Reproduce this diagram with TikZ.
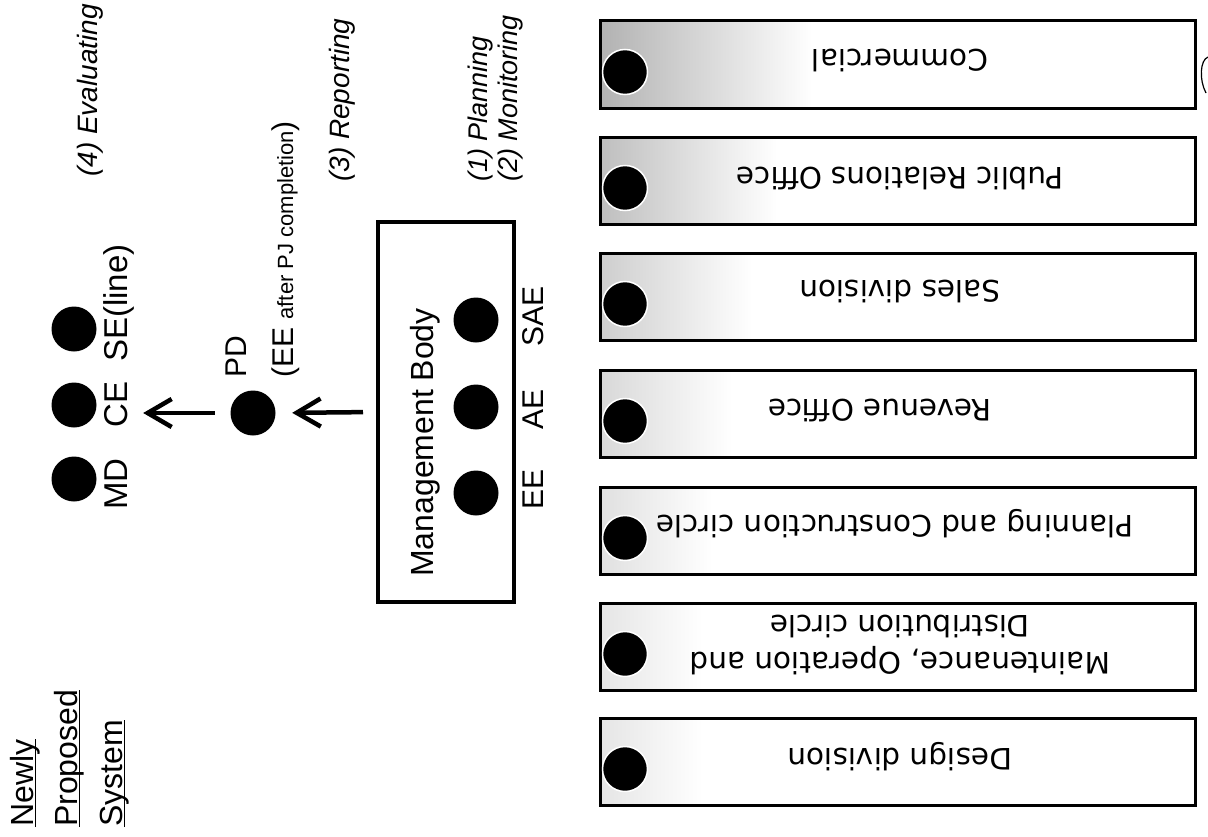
\documentclass[tikz,border=0pt]{standalone}
\usepackage{fontspec}
\setmainfont{Liberation Sans}
\newfontfamily\deptfont{DejaVu Sans}
\usetikzlibrary{arrows.meta}
\newcommand\pxsize[2]{\fontsize{#1bp}{#2bp}\selectfont}
\begin{document}
\begin{tikzpicture}[x=1bp,y=-1bp,
  vlabel/.style={rotate=90,anchor=base west,inner sep=0pt},
  dot/.style={circle,fill=black,minimum size=45bp,inner sep=0pt},
  dept/.style={draw=black,line width=3bp,minimum width=595bp,minimum height=87bp,inner sep=0pt},
  dtext/.style={rotate=180,font=\deptfont\pxsize{29.5}{37},align=center,inner sep=0pt},
  flow/.style={line width=4.5bp,-{Straight Barb[length=24bp,width=28bp]}},
  uline/.style={line width=1.5bp},
  stepname/.style={font=\itshape\pxsize{28}{34}}]
\useasboundingbox[fill=white] (0,0) rectangle (1208,837);

% title
\node[vlabel,font=\pxsize{32}{38}] (w1) at (33,827) {Newly};
\node[vlabel,font=\pxsize{32}{38}] (w2) at (77,827) {Proposed};
\node[vlabel,font=\pxsize{32}{38}] (w3) at (122,827) {System};
\draw[uline] ([xshift=2.5bp]w1.base west) -- ([xshift=2.5bp]w1.base east);
\draw[uline] ([xshift=2.5bp]w2.base west) -- ([xshift=2.5bp]w2.base east);
\draw[uline] ([xshift=2.5bp]w3.base west) -- ([xshift=2.5bp]w3.base east);

% evaluators
\node[dot] (md) at (74,479) {};
\node[dot] (ce) at (74,405) {};
\node[dot] (se) at (74,329) {};
\node[vlabel,font=\pxsize{33}{40}] (mdl) at (127,510) {MD};
\node[vlabel,font=\pxsize{33}{40}] (cel) at (127,428) {CE};
\node[vlabel,font=\pxsize{33}{40}] (sel) at (127,362) {SE(line)};

% project director
\node[dot] (pd) at (253,413) {};
\node[vlabel,font=\pxsize{30}{36}] (pdl) at (246,378) {PD};
\node[vlabel,font=\pxsize{30}{36}] (pdn) at (293,378) {(EE {\pxsize{22}{26}after PJ completion})};

% step names
\node[vlabel,stepname] (ev) at (97,177) {(4) Evaluating};
\node[vlabel,stepname] (rep) at (349,182) {(3) Reporting};
\node[vlabel,stepname,font=\itshape\pxsize{27}{32}] (pl) at (487,182) {(1) Planning};
\node[vlabel,stepname,font=\itshape\pxsize{27}{32}] (mon) at (517,182) {(2) Monitoring};

% management body
\node[draw=black,line width=4bp,minimum width=136bp,minimum height=380bp,inner sep=0pt] (mb) at (446,412) {};
\node[vlabel,font=\pxsize{32}{38}] (mbt) at (433,577) {Management Body};
\node[dot] (ee) at (476,493) {};
\node[dot] (ae) at (476,407) {};
\node[dot] (sae) at (476,320) {};
\node[vlabel,font=\pxsize{30}{36}] (eel) at (543,510) {EE};
\node[vlabel,font=\pxsize{30}{36}] (ael) at (543,430) {AE};
\node[vlabel,font=\pxsize{30}{36}] (sael) at (543,347) {SAE};

% reporting line
\draw[flow,shorten <=13bp,shorten >=16.5bp] (mb.west) -- (pd.east);
\draw[flow,shorten <=15.5bp,shorten >=46.5bp] (pd.west) -- (pd.west -| ce.east);

% departments
\foreach \n/\t/\g/\w in {1/21/60/210,2/137/50/175,3/253/38/150,4/370/30/130,5/487/24/110,6/603/20/100,7/718/20/100}{
  \fill[left color=gray!\g,right color=white] (602,\t) rectangle ++(\w,87);
  \node[dept] (d\n) at (897.5,\t+43.5) {};
  \node[dot,draw=white,line width=1.5bp] (c\n) at (625,\t+51) {};
}
\node[dtext] (t1) at (900,60) {Commercial};
\node[dtext] (t2) at (900,178) {Public Relations Office};
\node[dtext] (t3) at (900,291) {Sales division};
\node[dtext] (t4) at (880,410) {Revenue Office};
\node[dtext] (t5) at (895,524) {Planning and Construction circle};
\node[dtext] (t6) at (900,645) {Maintenance, Operation and\\Distribution circle};
\node[dtext] (t7) at (900,757) {Design division};

% bracket fragment at the edge
\draw[line width=1.2bp] (1208,57) .. controls (1200,60) and (1199,80) .. (1206,93);
\end{tikzpicture}
\end{document}
